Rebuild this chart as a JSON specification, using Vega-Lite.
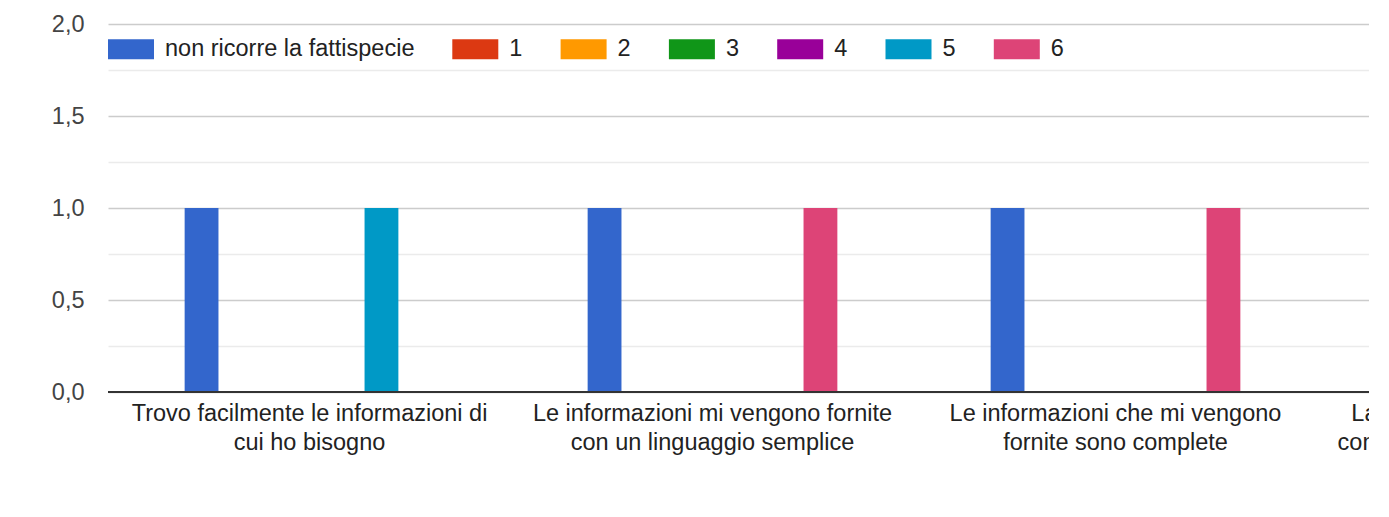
{
  "$schema": "https://vega.github.io/schema/vega-lite/v6.json",
  "width": 1261,
  "height": 368,
  "autosize": {"type": "none"},
  "padding": {"left": 108, "top": 24, "right": 0, "bottom": 125},
  "background": "white",
  "config": {
    "view": {"stroke": null},
    "font": "Liberation Sans"
  },
  "data": {
    "values": [
      {"domanda": "Trovo facilmente le informazioni di cui ho bisogno", "risposta": "non ricorre la fattispecie", "conteggio": 1},
      {"domanda": "Trovo facilmente le informazioni di cui ho bisogno", "risposta": "5", "conteggio": 1},
      {"domanda": "Le informazioni mi vengono fornite con un linguaggio semplice", "risposta": "non ricorre la fattispecie", "conteggio": 1},
      {"domanda": "Le informazioni mi vengono fornite con un linguaggio semplice", "risposta": "6", "conteggio": 1},
      {"domanda": "Le informazioni che mi vengono fornite sono complete", "risposta": "non ricorre la fattispecie", "conteggio": 1},
      {"domanda": "Le informazioni che mi vengono fornite sono complete", "risposta": "6", "conteggio": 1}
    ]
  },
  "layer": [
    {
      "mark": {"type": "bar", "clip": true},
      "encoding": {
        "x": {
          "field": "domanda",
          "type": "nominal",
          "sort": null,
          "scale": {
            "domain": [
              "Trovo facilmente le informazioni di cui ho bisogno",
              "Le informazioni mi vengono fornite con un linguaggio semplice",
              "Le informazioni che mi vengono fornite sono complete",
              "La modulistica richiesta è chiara comprensibile e semplice da usare"
            ],
            "range": [0, 1612],
            "paddingInner": 0.375,
            "paddingOuter": 0.1875
          },
          "axis": {
            "title": null,
            "domain": false,
            "ticks": false,
            "labelAngle": 0,
            "labelPadding": 9,
            "labelFontSize": 23.5,
            "labelLineHeight": 29,
            "labelColor": "#222222",
            "labelLimit": 0,
            "labelBaseline": "top",
            "labelExpr": "datum.label == 'Trovo facilmente le informazioni di cui ho bisogno' ? ['Trovo facilmente le informazioni di', 'cui ho bisogno'] : datum.label == 'Le informazioni mi vengono fornite con un linguaggio semplice' ? ['Le informazioni mi vengono fornite', 'con un linguaggio semplice'] : datum.label == 'Le informazioni che mi vengono fornite sono complete' ? ['Le informazioni che mi vengono', 'fornite sono complete'] : ['La modulistica richiesta è chiara', 'comprensibile e semplice da usare']"
          }
        },
        "xOffset": {
          "field": "risposta",
          "type": "nominal",
          "scale": {
            "domain": ["non ricorre la fattispecie", "1", "2", "3", "4", "5", "6"],
            "paddingInner": 0.06,
            "paddingOuter": 0.03
          }
        },
        "y": {
          "field": "conteggio",
          "type": "quantitative",
          "scale": {"domain": [0, 2], "nice": false},
          "axis": {
            "title": null,
            "domain": false,
            "ticks": false,
            "tickSize": 0,
            "values": [0, 0.25, 0.5, 0.75, 1, 1.25, 1.5, 1.75, 2],
            "labelExpr": "datum.value % 0.5 === 0 ? replace(format(datum.value, '.1f'), '.', ',') : ''",
            "labelFontSize": 23.5,
            "labelColor": "#444444",
            "labelPadding": 24,
            "gridColor": {"condition": {"test": "datum.value % 0.5 === 0", "value": "#cccccc"}, "value": "#ebebeb"},
            "gridWidth": 1.5
          }
        },
        "color": {
          "field": "risposta",
          "type": "nominal",
          "scale": {
            "domain": ["non ricorre la fattispecie", "1", "2", "3", "4", "5", "6"],
            "range": ["#3366cc", "#dc3912", "#ff9900", "#109618", "#990099", "#0099c6", "#dd4477"]
          },
          "legend": {
            "title": null,
            "orient": "none",
            "legendX": 0,
            "legendY": 2,
            "direction": "horizontal",
            "columns": 7,
            "columnPadding": 37.3,
            "padding": 0,
            "symbolType": "M-1,-0.43H1V0.43H-1Z",
            "symbolSize": 2116,
            "symbolStrokeWidth": 0,
            "symbolOpacity": 1,
            "labelFontSize": 23.5,
            "labelColor": "#222222",
            "labelOffset": 11,
            "labelLimit": 0
          }
        }
      }
    },
    {
      "mark": {"type": "rule", "color": "#333333", "strokeWidth": 2},
      "encoding": {"y": {"datum": 0}}
    }
  ]
}
